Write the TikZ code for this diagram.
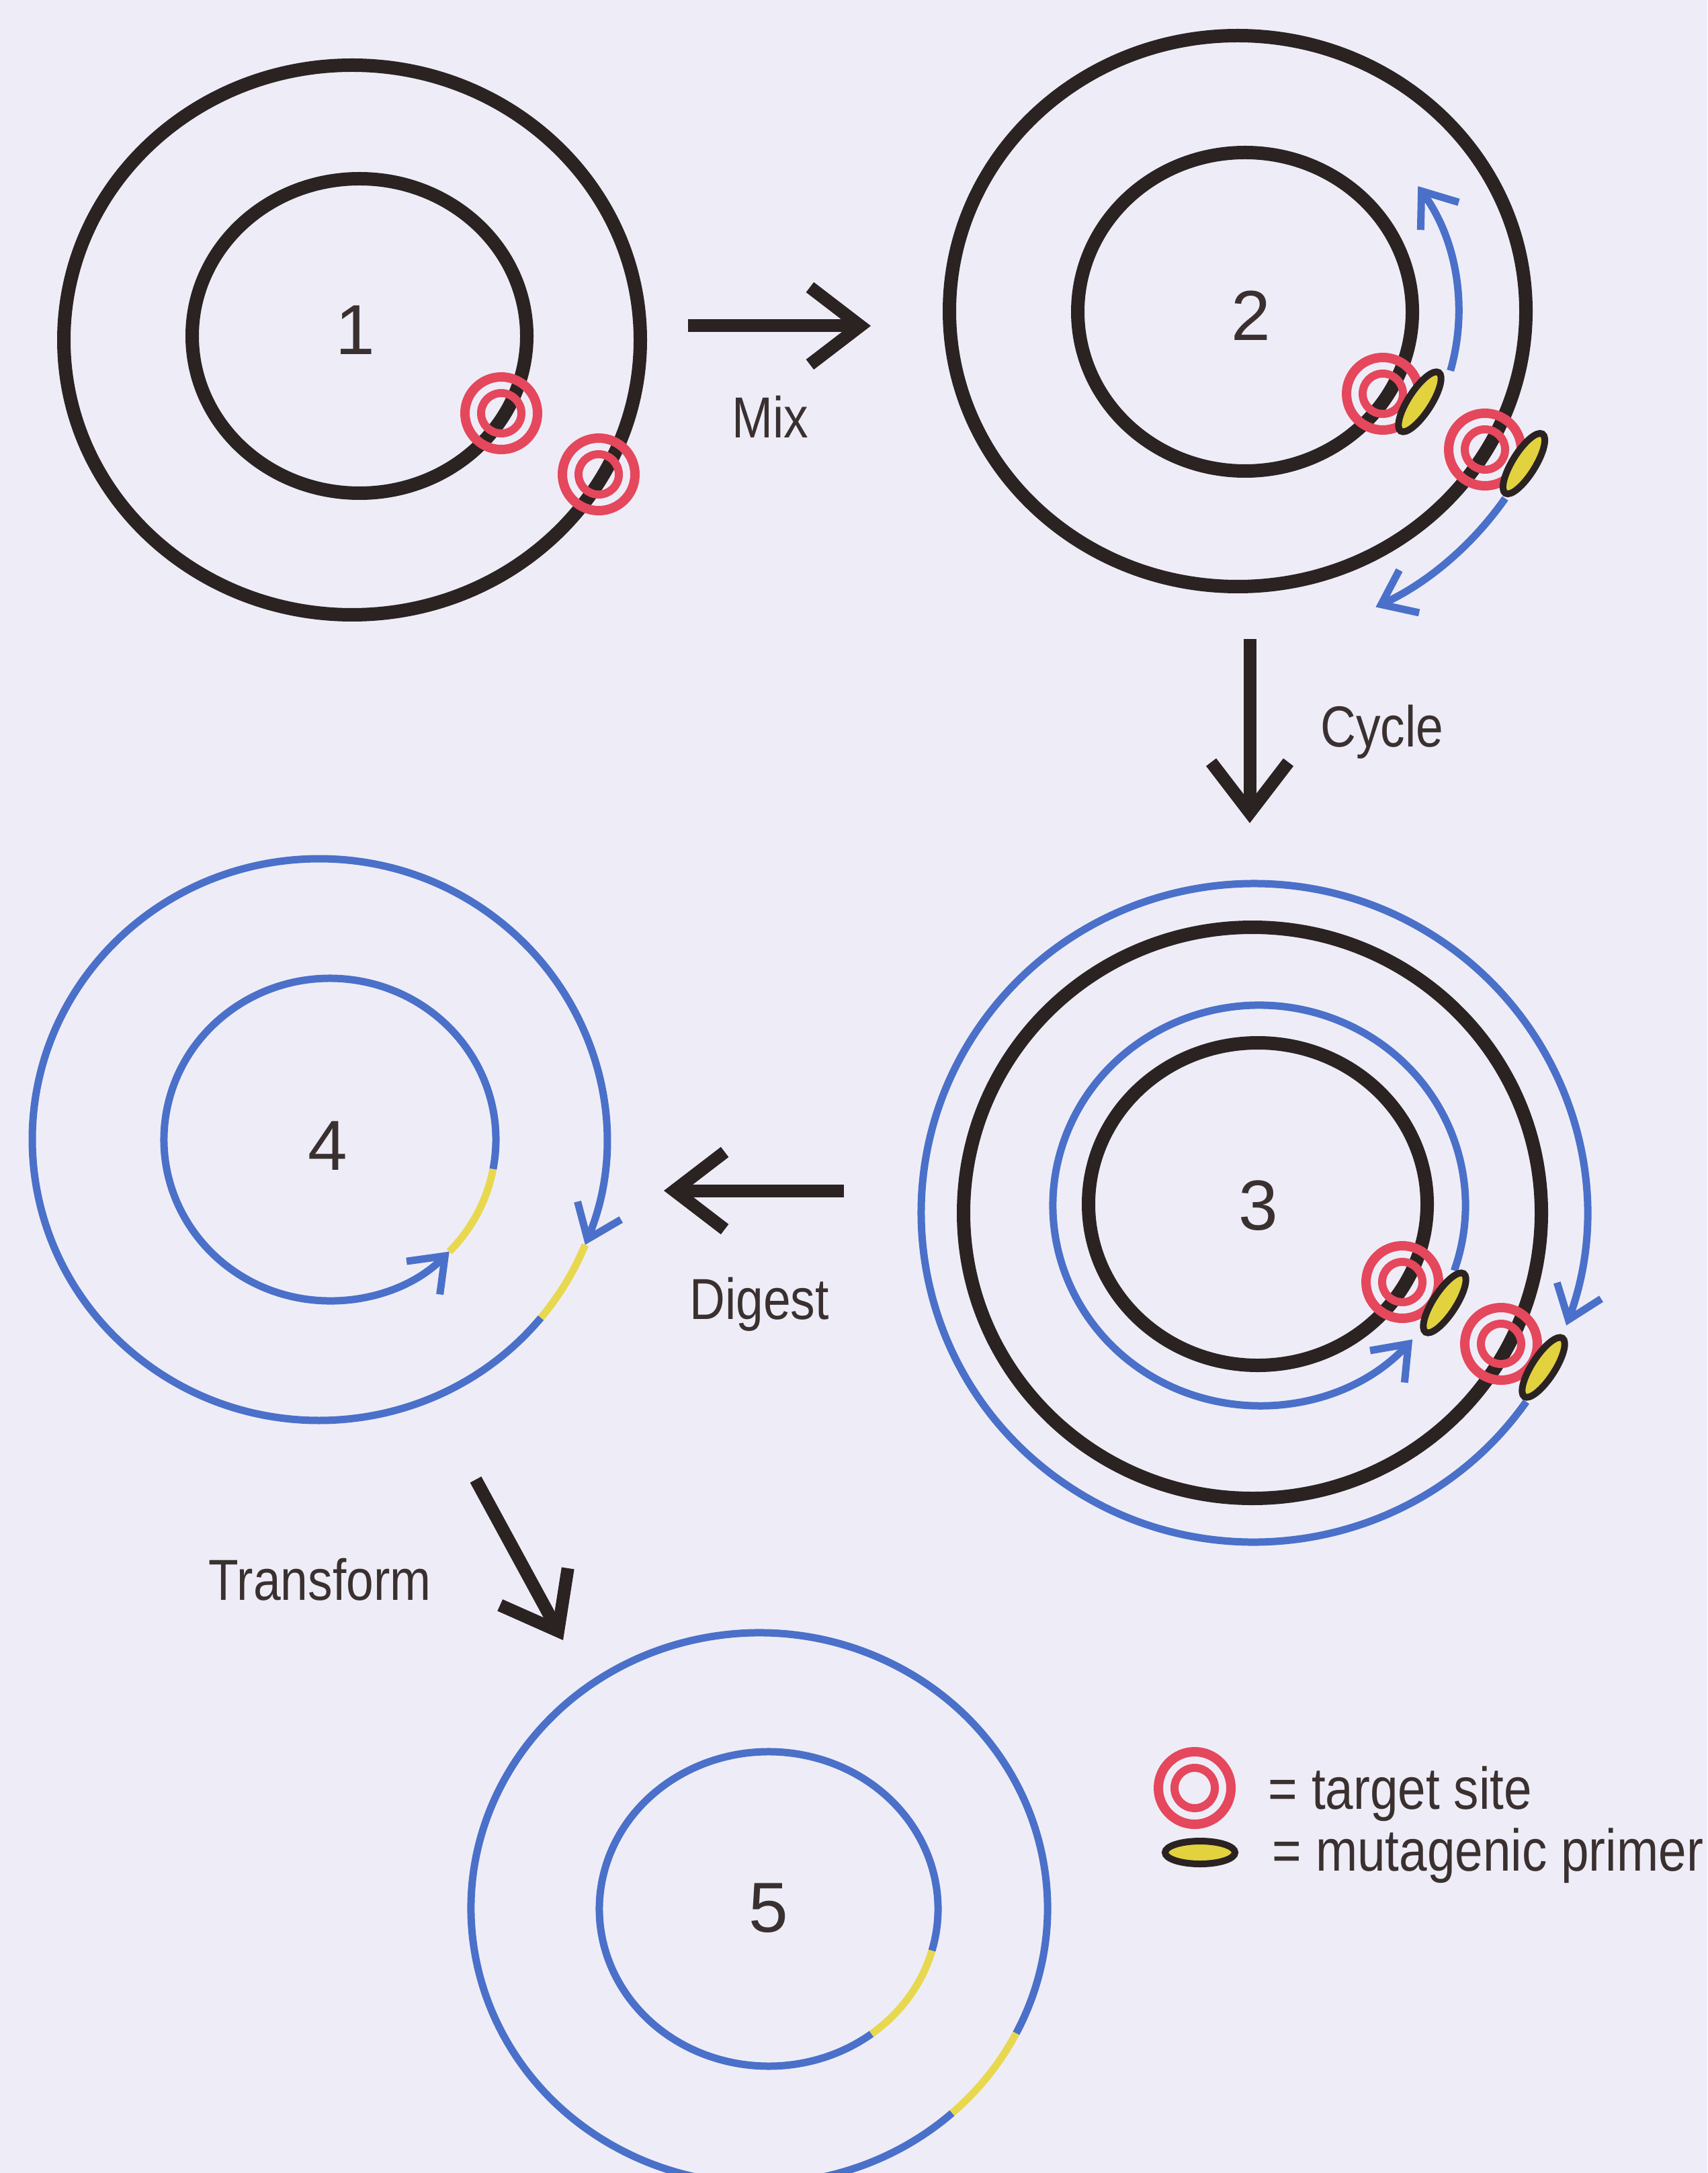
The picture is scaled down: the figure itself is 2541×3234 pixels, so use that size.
\documentclass[tikz,border=0pt]{standalone}
\usepackage{fontspec}
\setmainfont{Liberation Sans}
\newfontfamily\stagefont[FakeStretch=0.85]{Liberation Sans}
\usetikzlibrary{arrows.meta}
\definecolor{paper}{HTML}{EEEDF7}
\definecolor{dna}{HTML}{2B2222}
\definecolor{newdna}{HTML}{4A70C9}
\definecolor{site}{HTML}{E5475C}
\definecolor{mut}{HTML}{E2D23E}
\definecolor{mutline}{HTML}{E8D850}
\definecolor{ink}{HTML}{3A3030}
\begin{document}
\begin{tikzpicture}[x=0.1mm,y=0.1mm,
  olddna/.style={draw=dna, line width=2.0mm},
  newstrand/.style={draw=newdna, line width=1.1mm},
  newarrow/.style={newstrand, -{Straight Barb[length=4.6mm,width=7mm]}},
  mutseg/.style={draw=mutline, line width=1.1mm},
  stagearrow/.style={draw=dna, line width=1.9mm, -{Straight Barb[length=7.5mm,width=11.5mm]}},
  stagelabel/.style={text=ink, font=\stagefont\fontsize{24.5}{29}\selectfont, anchor=base, inner sep=0pt},
  platenum/.style={text=ink, font=\fontsize{30}{36}\selectfont, inner sep=0pt},
  legendtext/.style={text=ink, font=\stagefont\fontsize{25}{30}\selectfont, anchor=base west, inner sep=0pt},
  targetsite/.pic={
    \draw[draw=site, line width=1.4mm] (0,0) circle[radius=54];
    \draw[draw=site, line width=1.2mm] (0,0) circle[radius=30];},
  primer/.pic={
    \draw[draw=dna, fill=mut, line width=1.0mm] (0,0) ellipse[x radius=52, y radius=17];}
]
\useasboundingbox (0,0) rectangle (2541,-3234);
\fill[paper] (0,0) rectangle (2541,-3234);
\clip (0,0) rectangle (2541,-3234);

% plasmid centres
\coordinate (c1o) at (524,-506);
\coordinate (c1i) at (535,-500);
\coordinate (c2o) at (1842,-463);
\coordinate (c2i) at (1853,-464);
\coordinate (c3bo) at (1866,-1805);
\coordinate (c3ko) at (1864,-1805);
\coordinate (c3bi) at (1874,-1794);
\coordinate (c3ki) at (1872,-1792);
\coordinate (c4o) at (475,-1696);
\coordinate (c4i) at (491,-1696);
\coordinate (c5o) at (1130,-2840);
\coordinate (c5i) at (1144,-2841);

% ---- 1: parental plasmid
\draw[olddna] (c1o) ellipse[x radius=429, y radius=409];
\draw[olddna] (c1i) ellipse[x radius=249, y radius=234];
\node[platenum] (n1) at (529,-491) {1};
\pic (t1a) at (746,-615) {targetsite};
\pic (t1b) at (891,-706) {targetsite};

% ---- 2: primers annealed
\draw[olddna] (c2o) ellipse[x radius=429, y radius=410];
\draw[olddna] (c2i) ellipse[x radius=249, y radius=237];
\node[platenum] (n2) at (1862,-470) {2};
\draw[newarrow] (c2i) ++(-16:318) arc[start angle=-16, end angle=36, radius=318];
\draw[newarrow] (c2o) ++(-35:486) arc[start angle=-35, end angle=-65, radius=486];
\pic (t2a) at (2058,-586) {targetsite};
\pic (t2b) at (2210,-669) {targetsite};
\pic[rotate=57] (m2a) at (2113,-598) {primer};
\pic[rotate=58] (m2b) at (2268,-690) {primer};

% ---- 3: extended strands
\draw[newarrow] (c3bo) ++({495*cos(-35)},{490*sin(-35)})
  arc[start angle=-35, end angle=-380, x radius=495, y radius=490];
\draw[olddna] (c3ko) ellipse[x radius=430, y radius=425];
\draw[newarrow] (c3bi) ++({307*cos(-19)},{298*sin(-19)})
  arc[start angle=-19, end angle=318, x radius=307, y radius=298];
\draw[olddna] (c3ki) ellipse[x radius=252, y radius=240];
\node[platenum] (n3) at (1873,-1794) {3};
\pic (t3a) at (2087,-1908) {targetsite};
\pic (t3b) at (2234,-2000) {targetsite};
\pic[rotate=57] (m3a) at (2150,-1939) {primer};
\pic[rotate=57] (m3b) at (2297,-2035) {primer};

% ---- 4: mutated nicked plasmid
\draw[mutseg] (c4i) ++({247*cos(-44)},{240*sin(-44)})
  arc[start angle=-44, end angle=-10.5, x radius=247, y radius=240];
\draw[newarrow] (c4i) ++({247*cos(-10.5)},{240*sin(-10.5)})
  arc[start angle=-10.5, end angle=316, x radius=247, y radius=240];
\draw[mutseg] (c4o) ++({427*cos(-39.4)},{418*sin(-39.4)})
  arc[start angle=-39.4, end angle=-22, x radius=427, y radius=418];
\draw[newarrow] (c4o) ++({427*cos(-39.4)},{418*sin(-39.4)})
  arc[start angle=-39.4, end angle=-382, x radius=427, y radius=418];
\node[platenum] (n4) at (488,-1705) {4};

% ---- 5: repaired plasmid
\draw[newstrand] (c5i) ++({252*cos(-15.4)},{234*sin(-15.4)})
  arc[start angle=-15.4, end angle=307.4, x radius=252, y radius=234];
\draw[mutseg] (c5i) ++({252*cos(-52.6)},{234*sin(-52.6)})
  arc[start angle=-52.6, end angle=-15.4, x radius=252, y radius=234];
\draw[newstrand] (c5o) ++({429*cos(-27)},{410*sin(-27)})
  arc[start angle=-27, end angle=312, x radius=429, y radius=410];
\draw[mutseg] (c5o) ++({429*cos(-48)},{410*sin(-48)})
  arc[start angle=-48, end angle=-27, x radius=429, y radius=410];
\node[platenum] (n5) at (1144,-2840) {5};

% ---- process steps
\coordinate (mixS) at (1024,-485);
\coordinate (mixE) at (1296,-485);
\draw[stagearrow] (mixS) -- (mixE);
\node[stagelabel] (lmix) at (1146,-652) {Mix};

\coordinate (cycS) at (1860,-951);
\coordinate (cycE) at (1860,-1225);
\draw[stagearrow] (cycS) -- (cycE);
\node[stagelabel] (lcyc) at (2057,-1111) {Cycle};

\coordinate (digS) at (1256,-1772);
\coordinate (digE) at (988,-1772);
\draw[stagearrow] (digS) -- (digE);
\node[stagelabel] (ldig) at (1130,-1963) {Digest};

\coordinate (trS) at (708,-2202);
\coordinate (trE) at (838,-2441);
\draw[stagearrow] (trS) -- (trE);
\node[stagelabel] (ltr) at (476,-2381) {Transform};

% ---- key
\pic (keyT) at (1778,-2661) {targetsite};
\node[legendtext] (keyTl) at (1887,-2692) {= target site};
\pic (keyP) at (1786,-2757) {primer};
\node[legendtext] (keyPl) at (1893,-2784) {= mutagenic primer};
\end{tikzpicture}
\end{document}
